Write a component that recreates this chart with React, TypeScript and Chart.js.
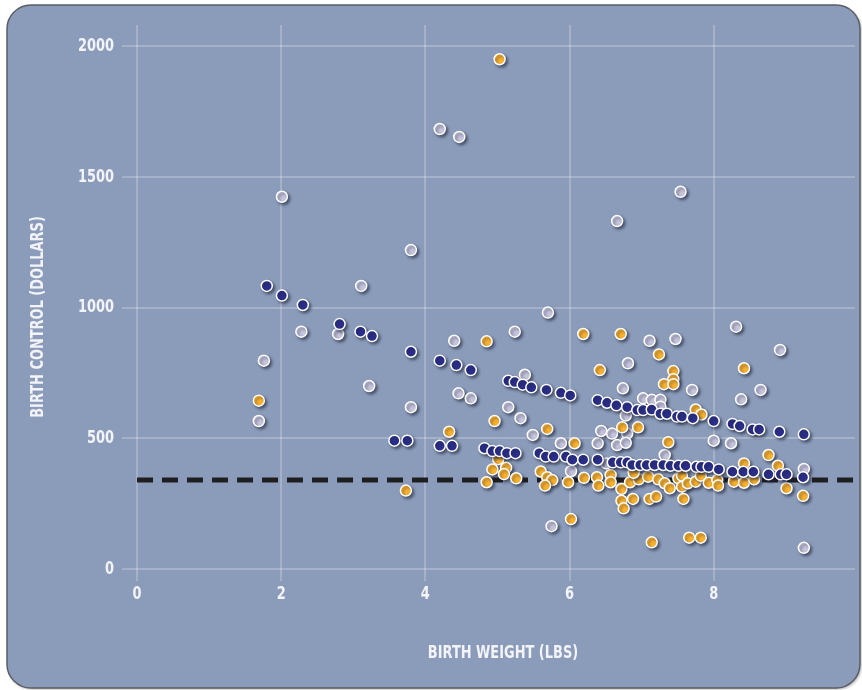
import React, { useEffect, useRef } from 'react';
import Chart from 'chart.js/auto';

// [birth weight (lbs), birth control cost (dollars)]
const navyPoints: [number, number][] = [
  [1.8, 1083], [2.01, 1046], [2.3, 1010], [2.81, 937], [3.1, 908], [3.26, 891], [3.8, 831],
  [3.57, 491], [3.75, 491], [4.2, 797], [4.43, 780], [4.63, 761],
  [5.15, 720], [5.24, 715], [5.35, 705], [5.47, 695], [5.68, 685], [5.88, 674], [6.01, 664],
  [6.39, 646], [6.52, 636], [6.65, 626], [6.8, 619], [6.94, 608], [7.02, 608], [7.14, 610],
  [7.26, 594], [7.35, 594], [7.49, 583], [7.56, 583], [7.71, 577],
  [8.0, 566], [8.26, 555], [8.36, 547], [8.54, 534], [8.63, 534], [8.91, 525], [9.25, 515],
  [4.2, 471], [4.37, 471], [4.82, 462], [4.93, 451], [5.03, 451], [5.13, 443], [5.25, 443],
  [5.58, 443], [5.67, 430], [5.78, 430], [5.95, 430], [6.04, 418], [6.19, 418], [6.39, 418],
  [6.6, 408], [6.71, 408], [6.8, 408], [6.87, 398], [6.98, 398], [7.07, 398], [7.18, 398],
  [7.3, 398], [7.4, 395], [7.51, 395], [7.61, 395], [7.76, 391], [7.83, 391], [7.93, 391],
  [8.07, 381], [8.26, 372], [8.41, 372], [8.55, 372], [8.76, 362], [8.93, 362], [9.01, 362],
  [9.24, 351],
];

const lavenderPoints: [number, number][] = [
  [2.01, 1424], [3.8, 1220], [3.11, 1083], [2.28, 908], [2.79, 899], [4.2, 1683], [4.47, 1653],
  [7.54, 1443], [6.66, 1331], [5.7, 981], [5.24, 908], [4.4, 873], [7.11, 873], [7.47, 880],
  [8.31, 927], [8.92, 838], [1.76, 797], [1.69, 566], [3.22, 700], [3.8, 619], [5.38, 743],
  [4.46, 672], [4.63, 653], [5.15, 619], [5.32, 577], [5.49, 513], [5.88, 481], [6.02, 374],
  [6.39, 481], [6.44, 528], [6.59, 518], [6.8, 518], [6.66, 474], [6.78, 483], [6.51, 404],
  [6.81, 787], [6.74, 691], [7.7, 685], [8.65, 685], [8.38, 649], [7.02, 653], [7.14, 647],
  [7.26, 647], [7.26, 621], [6.78, 587], [8.0, 491], [8.24, 481], [7.32, 436], [9.25, 383],
  [5.75, 164], [9.25, 81],
];

const orangePoints: [number, number][] = [
  [5.03, 1950], [4.85, 871], [6.19, 899], [6.71, 899], [1.69, 644], [3.73, 300], [7.24, 821],
  [6.42, 761], [8.42, 768], [7.44, 757], [7.44, 726], [7.31, 707], [7.44, 707], [4.96, 566],
  [4.33, 525], [5.69, 536], [6.73, 542], [6.95, 542], [7.75, 610], [7.83, 591], [7.37, 485],
  [6.07, 481], [8.76, 436], [8.42, 404], [8.89, 395], [5.01, 420], [4.93, 381], [5.12, 387],
  [5.09, 363], [4.85, 332], [5.26, 347], [5.6, 373], [5.69, 351], [5.76, 340], [5.66, 319],
  [5.98, 332], [6.2, 349], [6.38, 351], [6.4, 319], [6.57, 360], [6.57, 332], [6.72, 306],
  [6.84, 332], [6.96, 343], [7.09, 353], [7.23, 343], [7.32, 328], [7.39, 309], [6.89, 368],
  [7.51, 347], [7.56, 357], [7.56, 315], [7.64, 328], [7.75, 334], [7.82, 357], [7.93, 330],
  [8.05, 340], [8.06, 319], [8.28, 334], [8.42, 330], [8.56, 343], [9.01, 309], [9.24, 280],
  [6.72, 261], [6.88, 268], [6.75, 232], [7.11, 268], [7.2, 277], [7.58, 268], [6.02, 191],
  [7.14, 102], [7.66, 120], [7.82, 120],
];

const xTicks = [0, 2, 4, 6, 8];
const yTicks = [0, 500, 1000, 1500, 2000];
const referenceCost = 340;
const xTitle = 'BIRTH WEIGHT (LBS)';
const yTitle = 'BIRTH CONTROL (DOLLARS)';

const FONT = "'DejaVu Sans Condensed', 'Liberation Sans', sans-serif";
const TEXT = '#f3f3f8';
const GRID = 'rgba(255,255,255,0.22)';
const NARROW = 0.8; // squeeze the condensed font towards the reference's narrow face

const toXY = (pts: [number, number][]) => pts.map(([x, y]) => ({ x, y }));

const narrowText = (ctx: CanvasRenderingContext2D, text: string, x: number, y: number, align: CanvasTextAlign, rotate = false) => {
  ctx.save();
  ctx.translate(x, y);
  if (rotate) ctx.rotate(-Math.PI / 2);
  ctx.scale(NARROW, 1);
  ctx.textAlign = align;
  ctx.fillText(text, 0, 0);
  ctx.restore();
};

const framePlugin = {
  id: 'frame',
  beforeDraw: (chart: Chart) => {
    const { ctx, width, height } = chart;
    ctx.save();
    ctx.fillStyle = '#ffffff';
    ctx.fillRect(0, 0, width, height);
    ctx.shadowColor = 'rgba(0,0,0,0.3)';
    ctx.shadowBlur = 3;
    ctx.shadowOffsetX = 1.5;
    ctx.shadowOffsetY = 1.5;
    ctx.beginPath();
    ctx.roundRect(7, 5, 853, 683, 24);
    ctx.fillStyle = '#8b9cba';
    ctx.fill();
    ctx.shadowColor = 'transparent';
    ctx.lineWidth = 1.5;
    ctx.strokeStyle = '#5b5e66';
    ctx.stroke();
    ctx.restore();
  },
  afterDraw: (chart: Chart) => {
    const { ctx } = chart;
    const xs = chart.scales.x;
    const ys = chart.scales.y;
    ctx.save();
    ctx.fillStyle = TEXT;
    ctx.font = `bold 18px ${FONT}`;
    ctx.textBaseline = 'middle';
    xTicks.forEach(v => narrowText(ctx, String(v), xs.getPixelForValue(v), 594, 'center'));
    yTicks.forEach(v => narrowText(ctx, String(v), 114, ys.getPixelForValue(v), 'right'));
    narrowText(ctx, xTitle, 503, 653, 'center');
    narrowText(ctx, yTitle, 38, 317, 'center', true);
    ctx.restore();
  },
};

const shadowPlugin = {
  id: 'pointShadow',
  beforeDatasetDraw: (chart: Chart, args: any) => {
    if ((chart.data.datasets[args.index] as any).type === 'line') return;
    const { ctx } = chart;
    ctx.save();
    ctx.shadowColor = 'rgba(25,30,50,0.55)';
    ctx.shadowBlur = 3;
    ctx.shadowOffsetX = 2;
    ctx.shadowOffsetY = 2;
  },
  afterDatasetDraw: (chart: Chart, args: any) => {
    if ((chart.data.datasets[args.index] as any).type === 'line') return;
    chart.ctx.restore();
  },
};

const pointStyle = (color: string, order: number) => ({
  backgroundColor: color,
  borderColor: '#ffffff',
  borderWidth: 1.5,
  pointRadius: 5.5,
  pointHoverRadius: 5.5,
  order,
});

const App: React.FC = () => {
  const canvasRef = useRef<HTMLCanvasElement>(null);

  useEffect(() => {
    if (!canvasRef.current) return;
    const chart = new Chart(canvasRef.current, {
      type: 'scatter',
      data: {
        datasets: [
          { label: 'Navy', data: toXY(navyPoints), ...pointStyle('#2b2f8c', 0) },
          { label: 'Orange', data: toXY(orangePoints), ...pointStyle('#fbb22e', 1) },
          { label: 'Lavender', data: toXY(lavenderPoints), ...pointStyle('#c6c5de', 2) },
          {
            type: 'line',
            label: 'Reference',
            data: [{ x: 0, y: referenceCost }, { x: 10, y: referenceCost }],
            borderColor: '#1f1f22',
            borderWidth: 5,
            borderDash: [16, 9],
            pointRadius: 0,
            showLine: true,
            order: 3,
          } as any,
        ],
      },
      options: {
        responsive: false,
        animation: false,
        layout: { padding: { top: 25, right: 4, left: 0, bottom: 0 } },
        plugins: { legend: { display: false }, tooltip: { enabled: false } },
        scales: {
          x: {
            type: 'linear',
            min: 0,
            max: 9.96,
            afterBuildTicks: (s: any) => { s.ticks = xTicks.map(v => ({ value: v })); },
            afterFit: (s: any) => { s.height = 121; },
            grid: { color: GRID, lineWidth: 2, tickLength: 12, tickColor: GRID },
            border: { display: false },
            ticks: { display: false },
          },
          y: {
            type: 'linear',
            min: 0,
            max: 2081,
            afterBuildTicks: (s: any) => { s.ticks = yTicks.map(v => ({ value: v })); },
            afterFit: (s: any) => { s.width = 137; },
            grid: { color: GRID, lineWidth: 2, tickLength: 15, tickColor: GRID },
            border: { display: false },
            ticks: { display: false },
          },
        },
      },
      plugins: [framePlugin, shadowPlugin],
    });
    return () => chart.destroy();
  }, []);

  return (
    <div style={{ position: 'fixed', left: 0, top: 0, width: 862, height: 690, background: '#fff' }}>
      <canvas ref={canvasRef} width={862} height={690} style={{ display: 'block' }} />
    </div>
  );
};

export default App;
